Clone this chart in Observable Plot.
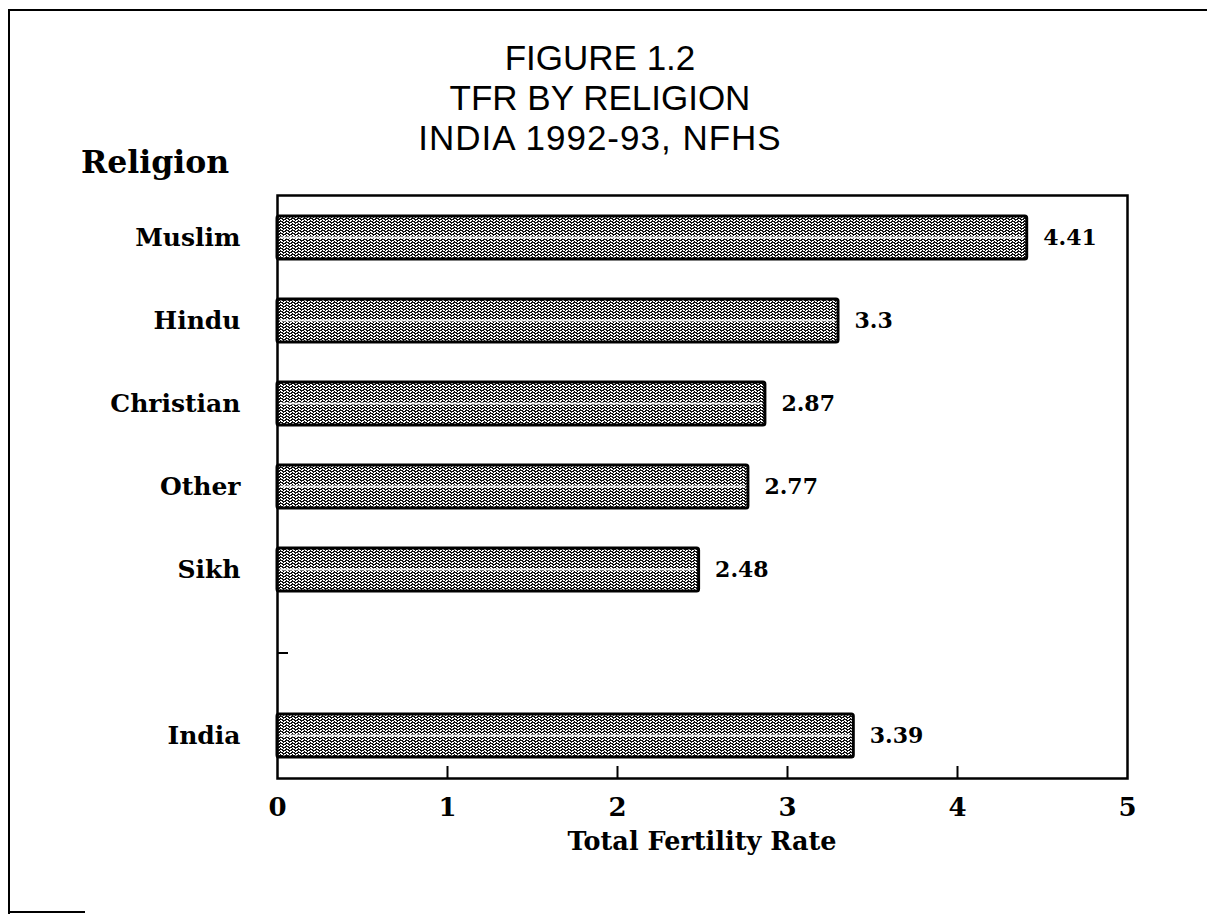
<!DOCTYPE html>
<html><head><meta charset="utf-8">
<script src="https://cdn.jsdelivr.net/npm/d3@7"></script>
<script src="https://cdn.jsdelivr.net/npm/@observablehq/plot@0.6"></script>
<style>
body{margin:0;background:#fff;}
#wrap{position:relative;width:1207px;height:915px;overflow:hidden;background:#fff;}
#border{position:absolute;left:8px;top:9px;width:1400px;height:903px;border-left:2.5px solid #000;border-top:2.5px solid #000;}
#bottomseg{position:absolute;left:10px;top:911px;width:75px;height:0;border-top:2px solid #000;}
#chart{position:absolute;left:0;top:0;}
#title{position:absolute;left:300px;width:600px;top:38px;text-align:center;font-family:'Liberation Sans',Arial,sans-serif;font-size:35px;line-height:40px;color:#000;}
#title span.wide{letter-spacing:1px;}
#ylabel{position:absolute;left:81px;top:146px;font-family:'DejaVu Serif',serif;font-weight:bold;font-size:31.5px;line-height:31px;color:#000;}
#xlabel{position:absolute;left:402px;width:600px;top:828px;text-align:center;font-family:'DejaVu Serif',serif;font-weight:bold;font-size:25.5px;line-height:26px;color:#000;}
</style></head><body>
<div id="wrap">
 <div id="border"></div>
 <div id="bottomseg"></div>
 <div id="chart"></div>
 <div id="title">FIGURE 1.2<br>TFR BY RELIGION<br><span class="wide">INDIA 1992-93, NFHS</span></div>
 <div id="ylabel">Religion</div>
 <div id="xlabel">Total Fertility Rate</div>
</div>
<script>
const categories = ["Muslim", "Hindu", "Christian", "Other", "Sikh", "", "India"];
const groups = ["Muslim", "Hindu", "Christian", "Other", "Sikh", "India"];
const tfr = [4.41, 3.3, 2.87, 2.77, 2.48, 3.39];
const xTicks = [0, 1, 2, 3, 4, 5];
const blankSlot = [""];

const data = groups.map((g, i) => ({religion: g, tfr: tfr[i]}));

const plot = Plot.plot({
  width: 1207, height: 915,
  marginTop: 195, marginBottom: 137, marginLeft: 277, marginRight: 80,
  style: {fontFamily: "'DejaVu Serif', serif", fontWeight: "bold", color: "#000", background: "transparent"},
  x: {domain: [0, 5]},
  y: {domain: categories, paddingInner: 0.48, paddingOuter: 0.24},
  marks: [
    Plot.barX(data, {y: "religion", x: "tfr", fill: "url(#tex)", stroke: "#000", strokeWidth: 3, rx: 2}),
    Plot.barX(data, {y: "religion", x: "tfr", fill: "#fff", fillOpacity: 0.85, insetTop: 20.5, insetBottom: 20.5, insetLeft: 2.5, insetRight: 2.5}),
    Plot.text(data, {y: "religion", x: "tfr", text: d => String(d.tfr), textAnchor: "start", dx: 16, fontSize: 22, fontWeight: "bold", fill: "#000"}),
    Plot.ruleX(xTicks.slice(1, -1), {insetTop: 571, strokeWidth: 2, stroke: "#000"}),
    Plot.ruleY(blankSlot, {insetRight: 839, strokeWidth: 2, stroke: "#000"}),
    Plot.frame({stroke: "#000", strokeWidth: 2.5}),
    Plot.axisX(xTicks, {tickSize: 0, tickPadding: 19, fontSize: 26, label: null, tickFormat: d => String(d)}),
    Plot.axisY({tickSize: 0, tickPadding: 37, fontSize: 25, label: null})
  ]
});

const ns = "http://www.w3.org/2000/svg";
const defs = document.createElementNS(ns, "defs");
defs.innerHTML = `<pattern id="tex" width="6" height="3" patternUnits="userSpaceOnUse">
<rect width="6" height="3" fill="#fff"/>
<rect x="0" y="0" width="4" height="1" fill="#111"/>
<rect x="1" y="1" width="1" height="1" fill="#111"/>
<rect x="4" y="1" width="1" height="1" fill="#111"/>
<rect x="3" y="2" width="3" height="1" fill="#111"/>
<rect x="0" y="2" width="1" height="1" fill="#111"/>
</pattern>`;
plot.insertBefore(defs, plot.firstChild);
document.getElementById("chart").appendChild(plot);
</script>
</body></html>
